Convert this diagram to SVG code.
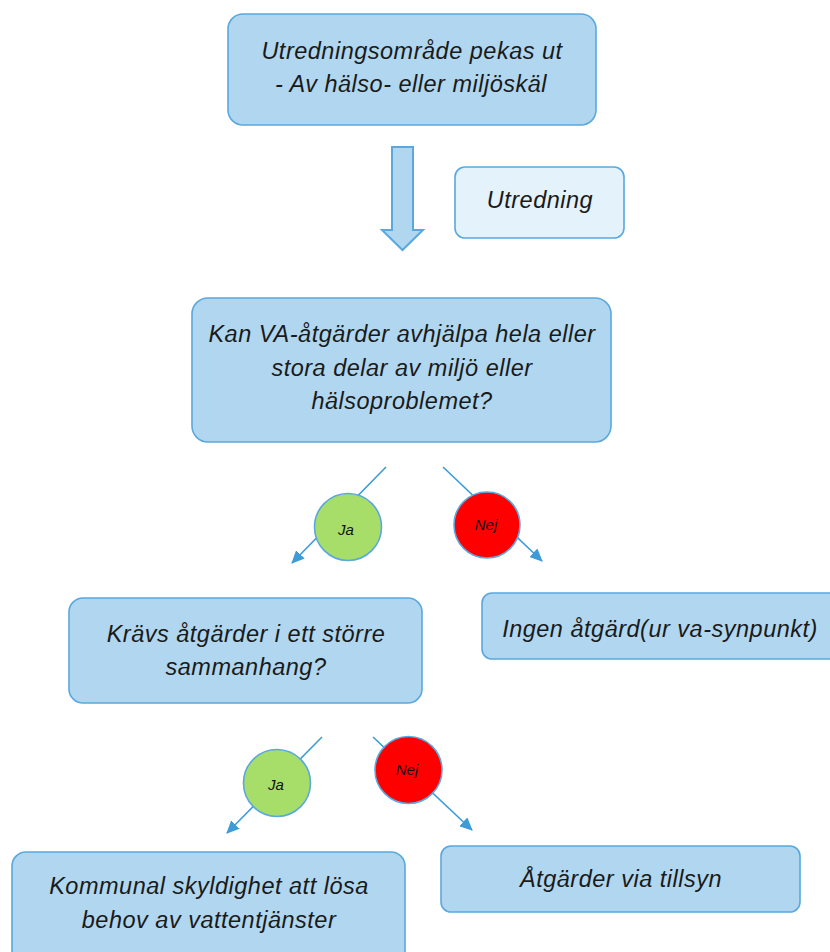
<svg xmlns="http://www.w3.org/2000/svg" width="830" height="952" viewBox="0 0 830 952">
<defs>
<style>
.box{fill:#b0d7ef;stroke:#5aa8de;stroke-width:1.6}
.box2{fill:#e3f2fb;stroke:#5aa8de;stroke-width:1.6}
.t{font-family:"Liberation Sans",Arial,sans-serif;font-style:italic;font-size:23.5px;letter-spacing:0.5px;fill:#1a1a1a;text-anchor:middle}
.s{font-family:"Liberation Sans",Arial,sans-serif;font-style:italic;font-size:15px;fill:#111;text-anchor:middle}
.ja{fill:#a6de69;stroke:#5aa8de;stroke-width:1.6}
.nej{fill:#ff0000;stroke:#5aa8de;stroke-width:1.6}
.c{stroke:#3d9bd8;stroke-width:1.6;fill:none;marker-end:url(#ah)}
</style>
<marker id="ah" markerWidth="14" markerHeight="12" refX="12" refY="6" orient="auto" markerUnits="userSpaceOnUse">
<path d="M0,0 L13,6 L0,12 Z" fill="#3d9bd8"/>
</marker>
</defs>
<rect width="830" height="952" fill="#ffffff"/>
<g id="connectors">
<polygon id="block-arrow" points="392,147 413,147 413,230 423,230 402.5,250 382,230 392,230" fill="#b0d7ef" stroke="#5aa8de" stroke-width="2"/>
<line class="c" x1="386" y1="467" x2="292" y2="563"/>
<line class="c" x1="443" y1="467" x2="542" y2="561"/>
<line class="c" x1="322" y1="737" x2="227" y2="833"/>
<line class="c" x1="373" y1="737" x2="472" y2="830"/>
</g>
<g id="start">
<rect class="box" x="228" y="14" width="368" height="111" rx="15"/>
<text class="t" x="412" y="59">Utredningsområde pekas ut</text>
<text class="t" x="411" y="92">- Av hälso- eller miljöskäl</text>
</g>
<g id="utredning">
<rect class="box2" x="455" y="167" width="169" height="71" rx="10"/>
<text class="t" x="540" y="208">Utredning</text>
</g>
<g id="question1">
<rect class="box" x="192" y="298" width="419" height="144" rx="16"/>
<text class="t" x="402" y="342">Kan VA-åtgärder avhjälpa hela eller</text>
<text class="t" x="402" y="376">stora delar av miljö eller</text>
<text class="t" x="402" y="409">hälsoproblemet?</text>
</g>
<g id="ja1">
<circle class="ja" cx="348" cy="527" r="33.5"/>
<text class="s" x="346" y="535">Ja</text>
</g>
<g id="nej1">
<circle class="nej" cx="487" cy="525" r="33"/>
<text class="s" x="486" y="530">Nej</text>
</g>
<g id="question2">
<rect class="box" x="69" y="598" width="353" height="105" rx="14"/>
<text class="t" x="246" y="642">Krävs åtgärder i ett större</text>
<text class="t" x="246" y="675">sammanhang?</text>
</g>
<g id="ingen">
<rect class="box" x="482" y="593" width="380" height="66" rx="10"/>
<text class="t" x="660" y="637">Ingen åtgärd(ur va-synpunkt)</text>
</g>
<g id="ja2">
<circle class="ja" cx="277" cy="783" r="33.5"/>
<text class="s" x="276" y="790">Ja</text>
</g>
<g id="nej2">
<circle class="nej" cx="408.5" cy="770" r="33.5"/>
<text class="s" x="407" y="775">Nej</text>
</g>
<g id="kommunal">
<rect class="box" x="12" y="852" width="393" height="130" rx="14"/>
<text class="t" x="209" y="894">Kommunal skyldighet att lösa</text>
<text class="t" x="209" y="928">behov av vattentjänster</text>
</g>
<g id="tillsyn">
<rect class="box" x="441" y="846" width="359" height="66" rx="10"/>
<text class="t" x="621" y="887">Åtgärder via tillsyn</text>
</g>
</svg>
